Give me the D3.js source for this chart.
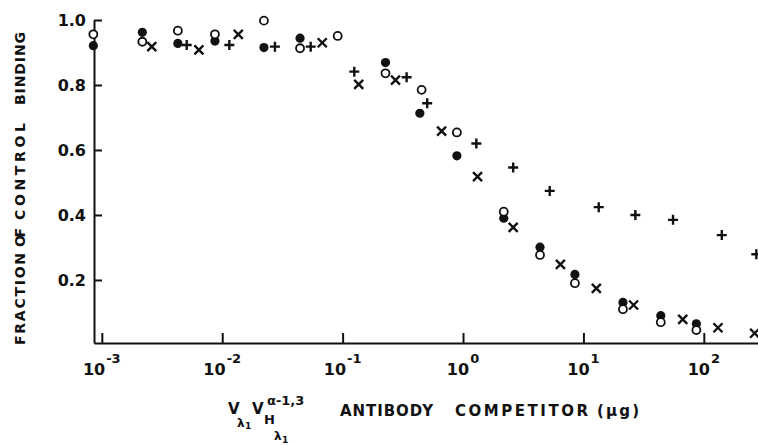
<!DOCTYPE html>
<html>
<head>
<meta charset="utf-8">
<script src="https://cdn.jsdelivr.net/npm/d3@7"></script>
<style>
  body { margin: 0; background: #fff; }
  text { font-family: "DejaVu Sans", sans-serif; font-weight: bold; fill: #111; }
</style>
</head>
<body>
<svg id="chart"></svg>
<script>
// data: [competitor (ug), fraction of control binding]
const filledCircles = [
  [0.00085, 0.921], [0.00217, 0.962], [0.00428, 0.928], [0.0087, 0.935], [0.0222, 0.915],
  [0.0443, 0.944], [0.227, 0.869], [0.438, 0.713], [0.889, 0.582], [2.18, 0.390],
  [4.36, 0.301], [8.5, 0.217], [21.3, 0.131], [43.9, 0.090], [86.7, 0.065]
];
const openCircles = [
  [0.00085, 0.956], [0.00217, 0.933], [0.00428, 0.967], [0.0087, 0.956], [0.0222, 0.998],
  [0.0443, 0.913], [0.091, 0.951], [0.227, 0.836], [0.453, 0.785], [0.889, 0.654],
  [2.18, 0.410], [4.36, 0.277], [8.5, 0.190], [21.3, 0.110], [43.9, 0.070], [86.7, 0.046]
];
const plusMarks = [
  [0.00507, 0.923], [0.01146, 0.923], [0.0274, 0.918], [0.0543, 0.918], [0.125, 0.841],
  [0.34, 0.824], [0.504, 0.744], [1.29, 0.620], [2.61, 0.546], [5.25, 0.474],
  [13.4, 0.424], [27.0, 0.400], [55.5, 0.385], [141, 0.338], [273, 0.279]
];
const crossMarks = [
  [0.0026, 0.918], [0.0064, 0.908], [0.0136, 0.956], [0.0677, 0.930], [0.136, 0.802],
  [0.275, 0.815], [0.664, 0.658], [1.32, 0.518], [2.61, 0.362], [6.44, 0.248],
  [12.8, 0.174], [26.1, 0.123], [66.8, 0.079], [131, 0.053], [264, 0.036]
];
const xTickExps = [-3, -2, -1, 0, 1, 2];
const yTicks = [0.2, 0.4, 0.6, 0.8, 1.0];

const width = 758;
const height = 445;

const svg = d3.select('#chart')
  .attr('width', width)
  .attr('height', height);

const x = d3.scaleLog()
  .domain([Math.pow(10, -3.065), Math.pow(10, 2.45)])
  .range([94, 758]);

const y = d3.scaleLinear()
  .domain([0.006, 1])
  .range([343, 20]);

// y axis, ticks pointing inward
const yAxis = d3.axisLeft(y)
  .tickValues(yTicks)
  .tickSizeInner(-8)
  .tickSizeOuter(0)
  .tickPadding(8)
  .tickFormat(d3.format('.1f'));

const gy = svg.append('g')
  .attr('transform', `translate(${x.range()[0]},0)`)
  .call(yAxis);
gy.selectAll('text').style('font-size', '16px').attr('dy', '0.36em');

// x axis, ticks pointing inward, labels built by hand for the powers of ten
const xAxis = d3.axisBottom(x)
  .tickValues(xTickExps.map(e => Math.pow(10, e)))
  .tickSizeInner(-10)
  .tickSizeOuter(0)
  .tickFormat('');

svg.append('g')
  .attr('transform', `translate(0,${y.range()[0]})`)
  .call(xAxis);

svg.selectAll('.domain, .tick line')
  .attr('stroke', '#111')
  .attr('stroke-width', 2);

const xLabels = svg.append('g')
  .selectAll('text')
  .data(xTickExps)
  .join('text')
    .attr('x', d => x(Math.pow(10, d)))
    .attr('y', 375)
    .attr('text-anchor', 'middle')
    .style('font-size', '16px');
xLabels.append('tspan').text('10');
xLabels.append('tspan')
  .attr('dy', -12)
  .attr('dx', 1)
  .style('font-size', '13px')
  .text(d => String(d));

// y title, word by word so the wide gaps of the original survive
const yWords = [
  { w: 'FRACTION', from: 345, len: 92 },
  { w: 'OF', from: 247, len: 19 },
  { w: 'CONTROL', from: 220, len: 97 },
  { w: 'BINDING', from: 105, len: 73 }
];
svg.append('g')
  .attr('transform', 'translate(25,0) rotate(-90)')
  .style('font-size', '14px')
  .selectAll('text')
  .data(yWords)
  .join('text')
    .attr('x', d => -d.from)
    .attr('y', 0)
    .attr('textLength', d => d.len)
    .attr('lengthAdjust', 'spacing')
    .text(d => d.w);

const xt = svg.append('g').style('font-size', '15px');
xt.append('text').attr('x', 228).attr('y', 414).text('V');
xt.append('text').attr('x', 237).attr('y', 427).style('font-size', '12px').text('\u03bb');
xt.append('text').attr('x', 245).attr('y', 429).style('font-size', '9px').text('1');
xt.append('text').attr('x', 252).attr('y', 414).text('V');
xt.append('text').attr('x', 264).attr('y', 424).style('font-size', '13px').text('H');
xt.append('text').attr('x', 274).attr('y', 440).style('font-size', '12px').text('\u03bb');
xt.append('text').attr('x', 282).attr('y', 443).style('font-size', '9px').text('1');
xt.append('text').attr('x', 267).attr('y', 405).style('font-size', '13px').text('\u03b1-1,3');
xt.append('text').attr('x', 340).attr('y', 416)
  .attr('textLength', 93).attr('lengthAdjust', 'spacing').text('ANTIBODY');
xt.append('text').attr('x', 455).attr('y', 416)
  .attr('textLength', 133).attr('lengthAdjust', 'spacing').text('COMPETITOR');
xt.append('text').attr('x', 597).attr('y', 416)
  .attr('textLength', 42).attr('lengthAdjust', 'spacing').text('(\u03bcg)');

// markers
const plot = svg.append('g');

plot.selectAll('.filled')
  .data(filledCircles)
  .join('circle')
    .attr('class', 'filled')
    .attr('cx', d => x(d[0]))
    .attr('cy', d => y(d[1]))
    .attr('r', 4.6)
    .attr('fill', '#111');

plot.selectAll('.open')
  .data(openCircles)
  .join('circle')
    .attr('class', 'open')
    .attr('cx', d => x(d[0]))
    .attr('cy', d => y(d[1]))
    .attr('r', 4)
    .attr('fill', '#fff')
    .attr('stroke', '#111')
    .attr('stroke-width', 1.8);

plot.selectAll('.plus')
  .data(plusMarks)
  .join('path')
    .attr('class', 'plus')
    .attr('transform', d => `translate(${x(d[0])},${y(d[1])})`)
    .attr('d', 'M-5,0H5M0,-5V5')
    .attr('stroke', '#111')
    .attr('stroke-width', 2.4);

plot.selectAll('.cross')
  .data(crossMarks)
  .join('path')
    .attr('class', 'cross')
    .attr('transform', d => `translate(${x(d[0])},${y(d[1])})`)
    .attr('d', 'M-4.5,-4.5L4.5,4.5M-4.5,4.5L4.5,-4.5')
    .attr('stroke', '#111')
    .attr('stroke-width', 2.4);
</script>
</body>
</html>
